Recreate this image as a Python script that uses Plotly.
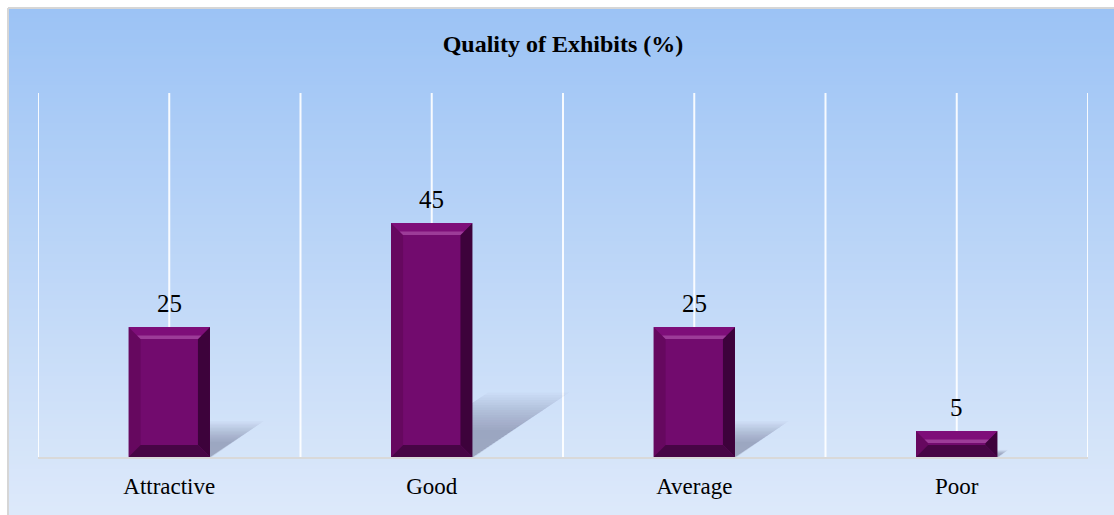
import plotly.graph_objects as go

# ---- data ----
categories = ["Attractive", "Good", "Average", "Poor"]
values = [25, 45, 25, 5]
title_text = "Quality of Exhibits (%)"

# ---- layout constants ----
W, H = 1114, 515
ML, MR, MT, MB = 38, 26, 93, 58
YMAX = 70
BAR_W = 0.31
PW = W - ML - MR
PH = H - MT - MB
PX_X = PW / 4.0          # pixels per x unit
PX_Y = PH / YMAX         # pixels per y unit
SERIF = "Liberation Serif, Times New Roman, serif"

xs = list(range(len(categories)))

fig = go.Figure()
fig.add_trace(go.Bar(
    x=xs, y=values, width=BAR_W,
    marker=dict(color="#720b6e", line=dict(width=0)),
    hoverinfo="skip", showlegend=False,
))

shapes = []

# background gradient (paper coords)
def px_to_paper_x(px):
    return (px - ML) / PW

def px_to_paper_y(py):
    return (H - MB - py) / PH

top_c = (156, 195, 245)
bot_c = (221, 233, 250)
y_start, y_end = 9, H
n = 120
step = (y_end - y_start) / n
for k in range(n):
    t = k / (n - 1)
    c = tuple(round(top_c[j] + (bot_c[j] - top_c[j]) * t) for j in range(3))
    py0 = y_start + k * step
    py1 = py0 + step + 0.8
    shapes.append(dict(type="rect", xref="paper", yref="paper", layer="below",
                       x0=px_to_paper_x(9), x1=px_to_paper_x(W + 5),
                       y0=px_to_paper_y(py1), y1=px_to_paper_y(py0),
                       line=dict(width=0), fillcolor="rgb(%d,%d,%d)" % c))
# frame lines (left / top)
shapes.append(dict(type="line", xref="paper", yref="paper", layer="below",
                   x0=px_to_paper_x(8), x1=px_to_paper_x(8),
                   y0=px_to_paper_y(8), y1=px_to_paper_y(H + 5),
                   line=dict(color="#d6d6d6", width=2)))
shapes.append(dict(type="line", xref="paper", yref="paper", layer="below",
                   x0=px_to_paper_x(8), x1=px_to_paper_x(W + 5),
                   y0=px_to_paper_y(8), y1=px_to_paper_y(8),
                   line=dict(color="#d6d6d6", width=2)))

# vertical gridlines at centres and boundaries
for g in [i * 0.5 - 0.5 for i in range(9)]:
    shapes.append(dict(type="line", xref="x", yref="y", layer="below",
                       x0=g, x1=g, y0=0, y1=YMAX,
                       line=dict(color="rgba(255,255,255,0.9)", width=2)))

# soft shadows behind bars (many faint nested layers to imitate blur)
for x, v in zip(xs, values):
    hs = 0.23 * v
    dx = 1.5 * hs * PX_Y / PX_X
    xl, xr = x - BAR_W / 2, x + BAR_W / 2
    nl = 16
    for k in range(nl):
        s = 1.2 - 0.7 * k / (nl - 1)
        op = 0.028
        path = "M %f,%f L %f,%f L %f,%f L %f,%f Z" % (
            xl, 0, xr + 0.02 * max(s - 0.8, 0), 0,
            xr + dx * s, hs * s, xl + dx * s, hs * s)
        shapes.append(dict(type="path", path=path, xref="x", yref="y", layer="below",
                           fillcolor="rgba(70,85,110,%f)" % op, line=dict(width=0)))

# bevel decoration on bars
for x, v in zip(xs, values):
    hpx = v * PX_Y
    b = min(12.0, hpx / 2)
    bx = b / PX_X
    by = b / PX_Y
    xl, xr = x - BAR_W / 2, x + BAR_W / 2
    ix0, ix1 = xl + bx, xr - bx
    iy0, iy1 = by, v - by

    def poly(pts, col):
        p = "M " + " L ".join("%f,%f" % q for q in pts) + " Z"
        shapes.append(dict(type="path", path=p, xref="x", yref="y", layer="above",
                           fillcolor=col, line=dict(width=0)))

    poly([(xl, 0), (xl, v), (ix0, iy1), (ix0, iy0)], "#66085f")       # left
    poly([(xr, 0), (xr, v), (ix1, iy1), (ix1, iy0)], "#3d023b")       # right
    poly([(xl, 0), (xr, 0), (ix1, iy0), (ix0, iy0)], "#470545")       # bottom
    poly([(xl, v), (xr, v), (ix1, iy1), (ix0, iy1)], "#7e0e79")       # top
    f = (b - 3.5) / b
    poly([(xl + bx * f, v - by * f), (xr - bx * f, v - by * f), (ix1, iy1), (ix0, iy1)], "#9c3c98")

annotations = []
for x, v in zip(xs, values):
    annotations.append(dict(x=x, y=v, xref="x", yref="y", text=str(v),
                            showarrow=False, yanchor="bottom", yshift=8,
                            font=dict(family=SERIF, size=25, color="#000000")))

fig.update_layout(
    width=W, height=H,
    margin=dict(l=ML, r=MR, t=MT, b=MB, pad=0),
    paper_bgcolor="#ffffff",
    plot_bgcolor="rgba(0,0,0,0)",
    title=dict(text=title_text, x=(ML + PW / 2) / W, xanchor="center",
               y=1 - 44 / H, yanchor="middle", yref="container",
               font=dict(family=SERIF, size=24, color="#000000", weight="bold")),
    xaxis=dict(range=[-0.5, 3.5], tickvals=xs, ticktext=categories,
               showgrid=False, zeroline=False, ticks="",
               showline=True, linecolor="#d9d9d9", linewidth=2,
               ticklabelstandoff=7,
               tickfont=dict(family=SERIF, size=23, color="#000000"),
               fixedrange=True),
    yaxis=dict(range=[0, YMAX], visible=False, showgrid=False, zeroline=False),
    shapes=shapes,
    annotations=annotations,
    bargap=0,
)

fig.write_html("out.html")
